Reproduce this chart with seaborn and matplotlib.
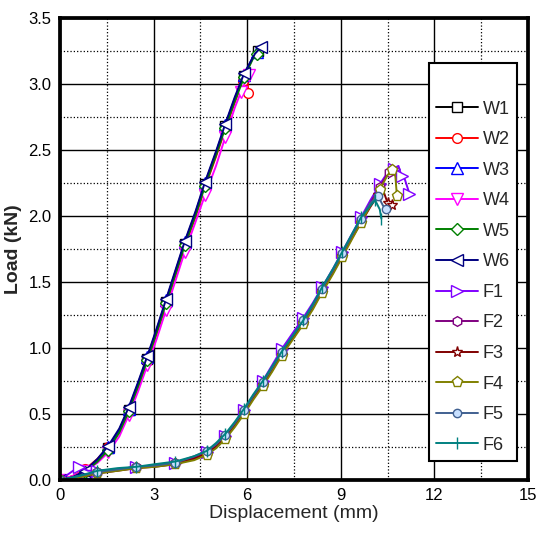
import matplotlib
matplotlib.use("Agg")
import matplotlib.pyplot as plt
from matplotlib.ticker import MultipleLocator
import seaborn as sns

sns.set_style("white")
plt.rcParams['font.family'] = ['Liberation Sans', 'DejaVu Sans']

# ---- data ----
names = ["W1", "W2", "W3", "W4", "W5", "W6", "F1", "F2", "F3", "F4", "F5", "F6"]

w1_x = [0, 0.4, 0.8, 1.2, 1.55, 1.9, 2.2, 2.5, 2.8, 3.1, 3.4, 3.7, 4.0, 4.35, 4.65, 5.0, 5.3, 5.6, 5.9, 6.2, 6.35]
w1_y = [0, 0.02, 0.07, 0.15, 0.24, 0.37, 0.53, 0.72, 0.92, 1.13, 1.35, 1.57, 1.79, 2.02, 2.24, 2.47, 2.68, 2.88, 3.06, 3.21, 3.25]
w2_x = [0, 0.4, 0.8, 1.2, 1.55, 1.9, 2.2, 2.5, 2.8, 3.1, 3.4, 3.7, 4.0, 4.35, 4.65, 5.0, 5.3, 5.6, 5.85, 6.0, 6.03]
w2_y = [0, 0.03, 0.08, 0.16, 0.25, 0.36, 0.52, 0.70, 0.90, 1.11, 1.33, 1.55, 1.77, 2.00, 2.22, 2.45, 2.66, 2.86, 3.02, 3.10, 2.93]
w3_x = [0, 0.4, 0.8, 1.2, 1.55, 1.9, 2.2, 2.5, 2.8, 3.1, 3.4, 3.7, 4.0, 4.35, 4.65, 5.0, 5.3, 5.6, 5.9, 6.2, 6.3]
w3_y = [0, 0.02, 0.06, 0.15, 0.25, 0.38, 0.54, 0.73, 0.93, 1.14, 1.36, 1.58, 1.80, 2.03, 2.25, 2.48, 2.69, 2.89, 3.07, 3.21, 3.24]
w4_x = [0, 0.4, 0.8, 1.2, 1.55, 1.9, 2.2, 2.5, 2.8, 3.1, 3.4, 3.7, 4.0, 4.35, 4.65, 5.0, 5.3, 5.6, 5.8, 5.95, 6.05]
w4_y = [0, 0.03, 0.07, 0.13, 0.21, 0.33, 0.49, 0.67, 0.87, 1.07, 1.29, 1.51, 1.73, 1.96, 2.16, 2.38, 2.60, 2.82, 2.94, 3.02, 3.07]
w5_x = [0, 0.4, 0.8, 1.2, 1.55, 1.9, 2.2, 2.5, 2.8, 3.1, 3.4, 3.7, 4.0, 4.35, 4.65, 5.0, 5.3, 5.6, 5.9, 6.2, 6.3]
w5_y = [0, 0.02, 0.06, 0.14, 0.23, 0.36, 0.52, 0.71, 0.91, 1.12, 1.34, 1.56, 1.78, 2.01, 2.23, 2.46, 2.67, 2.87, 3.05, 3.20, 3.23]
w6_x = [0, 0.4, 0.8, 1.2, 1.55, 1.9, 2.2, 2.5, 2.8, 3.1, 3.4, 3.7, 4.0, 4.35, 4.65, 5.0, 5.3, 5.6, 5.9, 6.25, 6.45]
w6_y = [0, 0.02, 0.07, 0.16, 0.26, 0.39, 0.55, 0.74, 0.94, 1.15, 1.37, 1.59, 1.81, 2.04, 2.26, 2.49, 2.70, 2.90, 3.08, 3.23, 3.28]

f1_x = [0, 0.3, 0.6, 0.9, 1.2, 1.85, 2.45, 3.05, 3.7, 4.3, 4.7, 5.0, 5.3, 5.6, 5.9, 6.2, 6.5, 6.8, 7.1, 7.45, 7.8, 8.1, 8.4, 8.75, 9.05, 9.35, 9.65, 9.95, 10.25, 10.5, 10.7, 10.85, 10.95, 11.05, 11.2]
f1_y = [0, 0.05, 0.10, 0.07, 0.07, 0.08, 0.10, 0.11, 0.13, 0.17, 0.21, 0.26, 0.33, 0.42, 0.53, 0.64, 0.75, 0.87, 0.99, 1.11, 1.23, 1.34, 1.46, 1.60, 1.73, 1.86, 1.99, 2.12, 2.24, 2.33, 2.36, 2.38, 2.30, 2.28, 2.17]
f2_x = [0, 0.6, 1.2, 1.85, 2.45, 3.05, 3.7, 4.3, 4.7, 5.0, 5.3, 5.6, 5.9, 6.2, 6.5, 6.8, 7.1, 7.45, 7.8, 8.1, 8.4, 8.75, 9.05, 9.35, 9.65, 9.95, 10.25, 10.5, 10.55]
f2_y = [0, 0.03, 0.06, 0.08, 0.10, 0.11, 0.13, 0.17, 0.21, 0.26, 0.33, 0.42, 0.52, 0.63, 0.73, 0.84, 0.96, 1.08, 1.20, 1.31, 1.44, 1.58, 1.71, 1.84, 1.97, 2.10, 2.22, 2.32, 2.33]
f3_x = [0, 0.6, 1.2, 1.85, 2.45, 3.05, 3.7, 4.3, 4.7, 5.0, 5.3, 5.6, 5.9, 6.2, 6.5, 6.8, 7.1, 7.45, 7.8, 8.1, 8.4, 8.75, 9.05, 9.35, 9.65, 9.95, 10.2, 10.35, 10.5, 10.6, 10.65]
f3_y = [0, 0.02, 0.05, 0.07, 0.09, 0.10, 0.12, 0.16, 0.20, 0.25, 0.32, 0.41, 0.51, 0.62, 0.72, 0.83, 0.95, 1.07, 1.19, 1.30, 1.43, 1.57, 1.70, 1.83, 1.95, 2.07, 2.16, 2.20, 2.10, 2.05, 2.08]
f4_x = [0, 0.6, 1.2, 1.85, 2.45, 3.05, 3.7, 4.3, 4.7, 5.0, 5.3, 5.6, 5.9, 6.2, 6.5, 6.8, 7.1, 7.45, 7.8, 8.1, 8.4, 8.75, 9.05, 9.35, 9.65, 9.95, 10.25, 10.5, 10.65, 10.75, 10.8]
f4_y = [0, 0.02, 0.05, 0.07, 0.09, 0.10, 0.12, 0.15, 0.19, 0.24, 0.31, 0.40, 0.50, 0.61, 0.71, 0.82, 0.94, 1.06, 1.18, 1.29, 1.42, 1.56, 1.69, 1.82, 1.95, 2.08, 2.20, 2.31, 2.35, 2.30, 2.15]
f5_x = [0, 0.6, 1.2, 1.85, 2.45, 3.05, 3.7, 4.3, 4.7, 5.0, 5.3, 5.6, 5.9, 6.2, 6.5, 6.8, 7.1, 7.45, 7.8, 8.1, 8.4, 8.75, 9.05, 9.35, 9.65, 9.95, 10.2, 10.35, 10.45]
f5_y = [0, 0.03, 0.06, 0.08, 0.10, 0.11, 0.13, 0.18, 0.22, 0.27, 0.34, 0.43, 0.53, 0.64, 0.74, 0.85, 0.97, 1.09, 1.21, 1.32, 1.45, 1.59, 1.72, 1.85, 1.98, 2.10, 2.15, 2.08, 2.05]
f6_x = [0, 0.6, 1.2, 1.85, 2.45, 3.05, 3.7, 4.3, 4.7, 5.0, 5.3, 5.6, 5.9, 6.2, 6.5, 6.8, 7.1, 7.45, 7.8, 8.1, 8.4, 8.75, 9.05, 9.35, 9.65, 9.95, 10.1, 10.25, 10.3]
f6_y = [0, 0.03, 0.07, 0.09, 0.10, 0.12, 0.14, 0.18, 0.22, 0.28, 0.35, 0.44, 0.54, 0.65, 0.75, 0.86, 0.97, 1.09, 1.21, 1.33, 1.46, 1.60, 1.73, 1.86, 1.99, 2.08, 2.12, 2.05, 1.98]

xs = [w1_x, w2_x, w3_x, w4_x, w5_x, w6_x, f1_x, f2_x, f3_x, f4_x, f5_x, f6_x]
ys = [w1_y, w2_y, w3_y, w4_y, w5_y, w6_y, f1_y, f2_y, f3_y, f4_y, f5_y, f6_y]

colors = ["#000000", "#FF0000", "#0000FF", "#FF00FF", "#008000", "#000080",
          "#8000FF", "#800080", "#800000", "#808000", "#406090", "#008080"]
markers = ["s", "o", "^", "v", "D", "<", ">", "h", "*", "p", "o", "|"]
faces = ["white"] * 10 + ["#c8e0ff", "white"]
msizes = [7, 7, 8, 8, 6, 8, 8, 7, 8, 8, 6, 9]

x_ticks = [0, 3, 6, 9, 12, 15]
y_ticks = [0.0, 0.5, 1.0, 1.5, 2.0, 2.5, 3.0, 3.5]

fig = plt.figure(figsize=(5.36, 5.39), dpi=100)
ax = fig.add_axes([0.112, 0.1095, 0.873, 0.857])

for i, name in enumerate(names):
    sns.lineplot(x=xs[i], y=ys[i], ax=ax, color=colors[i], marker=markers[i],
                 markerfacecolor=faces[i], markeredgecolor=colors[i],
                 markersize=msizes[i], markeredgewidth=1.0, markevery=2,
                 linewidth=1.4, label=name, sort=False, estimator=None)

ax.set_xlim(0, 15)
ax.set_ylim(0, 3.5)
ax.set_xticks(x_ticks)
ax.set_yticks(y_ticks)
ax.set_yticklabels([f"{v:.1f}" for v in y_ticks])
ax.xaxis.set_minor_locator(MultipleLocator(1.5))
ax.yaxis.set_minor_locator(MultipleLocator(0.25))
ax.set_axisbelow(True)
ax.grid(which='major', color='black', linewidth=1.0, linestyle='-')
ax.grid(which='minor', color='black', linewidth=0.9, linestyle=':')

for s in ax.spines.values():
    s.set_linewidth(2.7)
    s.set_color('black')
ax.tick_params(which='major', direction='in', length=6, width=2.7, labelsize=12,
               colors='black', pad=6)
ax.tick_params(which='minor', direction='in', length=5, width=2.0)
ax.tick_params(axis='x', which='both', top=False)
ax.tick_params(axis='y', which='both', right=False)

ax.set_xlabel("Displacement (mm)", fontsize=14, labelpad=1)
ax.set_ylabel("Load (kN)", fontsize=14, fontweight='bold', labelpad=5)

leg = ax.legend(loc='upper left', bbox_to_anchor=(0.788, 0.903), borderaxespad=0,
                fontsize=13, title=' ', title_fontsize=14, handlelength=2.3,
                handletextpad=0.3, borderpad=0.4, labelspacing=0.75,
                fancybox=False, framealpha=1, edgecolor='black')
leg.get_frame().set_linewidth(1.5)

fig.savefig("out.png", dpi=100)
